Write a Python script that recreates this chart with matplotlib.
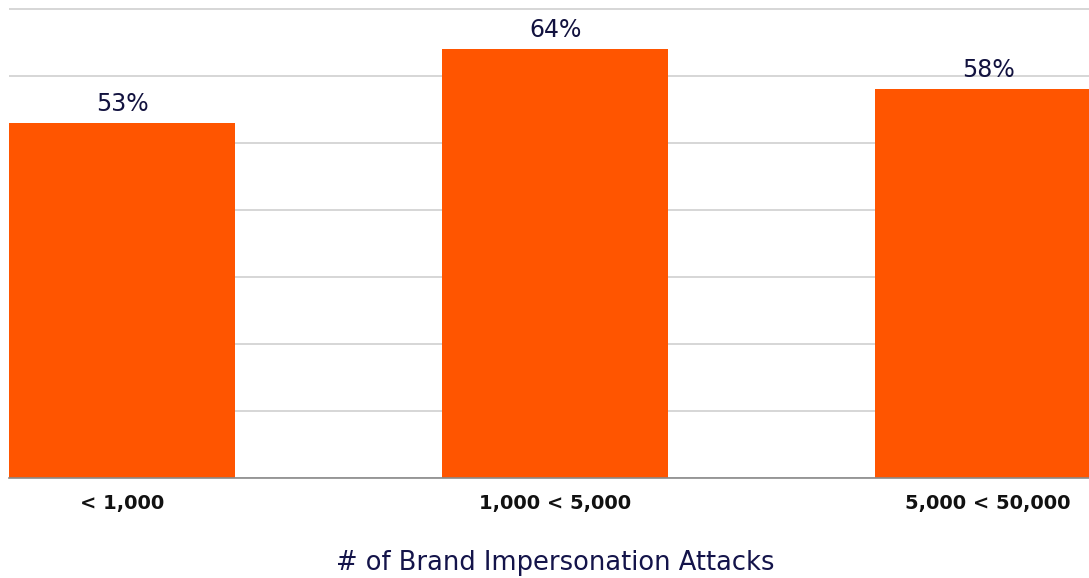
import matplotlib.pyplot as plt

categories = ["< 1,000", "1,000 < 5,000", "5,000 < 50,000"]
values = [53, 64, 58]
yticks = [0, 10, 20, 30, 40, 50, 60, 70]

fig = plt.figure(figsize=(10.89, 5.78), dpi=100)
ax = fig.add_axes([0.0083, 0.173, 1 - 0.0083, 0.8137])

x = range(len(categories))
ax.bar(x, values, width=0.522, color="#FF5500", zorder=3)

for xi, v in zip(x, values):
    ax.text(xi, v + 1.1, f"{v}%", ha="center", va="bottom",
            fontsize=17, color="#12123f")

ax.set_xlim(-0.261, 2.233)
ax.set_ylim(0, 70.2)
ax.set_yticks(yticks)
ax.yaxis.grid(True, color="#d0d0d0", linewidth=1.2, zorder=0)
ax.tick_params(axis="y", left=False, labelleft=False)
ax.tick_params(axis="x", bottom=False, pad=8)

ax.set_xticks(list(x))
ax.set_xticklabels(categories, fontsize=14, fontweight="bold",
                   color="#111111")

for side in ["top", "right", "left"]:
    ax.spines[side].set_visible(False)
ax.spines["bottom"].set_color("#8a8a8a")
ax.spines["bottom"].set_linewidth(1.2)
ax.spines["bottom"].set_zorder(4)

ax.set_xlabel("# of Brand Impersonation Attacks", fontsize=18.5,
              color="#14144a")
ax.xaxis.set_label_coords(0.5056, -0.153)

fig.savefig("out.png", dpi=100)
